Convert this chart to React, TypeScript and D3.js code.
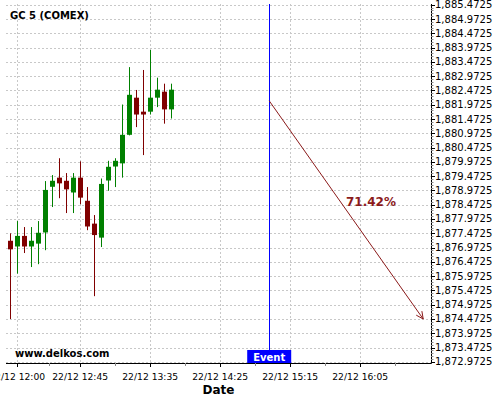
import React from 'react';
import * as d3 from 'd3';

// 5-minute candles, 22/12 from 11:55
const candleTimes = [
  '11:55', '12:00', '12:05', '12:10', '12:15', '12:20', '12:25', '12:30',
  '12:35', '12:40', '12:45', '12:50', '12:55', '13:00', '13:05', '13:10',
  '13:15', '13:20', '13:25', '13:30', '13:35', '13:40', '13:45', '13:50',
];
const opens = [
  1877.21, 1877.01, 1877.38, 1877.01, 1877.11, 1877.50, 1879.10, 1879.42,
  1879.31, 1878.90, 1879.42, 1878.61, 1877.81, 1877.32, 1879.32, 1879.81,
  1879.92, 1880.92, 1882.22, 1881.73, 1881.73, 1882.22, 1882.43, 1881.81,
];
const highs = [
  1877.47, 1877.90, 1877.69, 1877.69, 1877.90, 1879.30, 1879.51, 1880.10,
  1879.58, 1879.58, 1879.99, 1879.09, 1878.11, 1879.39, 1880.01, 1880.10,
  1881.98, 1883.29, 1882.49, 1883.19, 1883.89, 1882.92, 1882.71, 1882.71,
];
const lows = [
  1874.47, 1876.06, 1876.78, 1876.29, 1876.39, 1876.88, 1878.39, 1878.70,
  1878.18, 1878.18, 1878.49, 1877.58, 1875.27, 1876.99, 1878.96, 1879.09,
  1879.42, 1880.90, 1881.19, 1880.21, 1881.63, 1881.89, 1881.31, 1881.49,
];
const closes = [
  1876.91, 1877.38, 1877.01, 1877.21, 1877.49, 1878.99, 1879.31, 1879.22,
  1879.01, 1879.42, 1878.72, 1877.71, 1877.41, 1879.20, 1879.80, 1880.01,
  1880.92, 1882.32, 1881.63, 1881.63, 1882.22, 1882.50, 1881.81, 1882.50,
];

const xTickTimes = ['12:00', '12:45', '13:35', '14:25', '15:15', '16:05'];
const xDomainTimes = ['11:52', '16:55:34'];
const yTicks = d3.range(0, 26).map((i) => 1872.9725 + i * 0.5);
const yDomain = [1872.93, 1885.5];

const eventTime = '15:00';
const arrowStart = { time: '15:00', price: 1882.11 };
const arrowEnd = { time: '16:50', price: 1874.47 };
const arrowLabel = '71.42%';
const title = 'GC 5 (COMEX)';

const parseT = (s: string) => {
  const [h, m, sec] = s.split(':').map(Number);
  return new Date(2020, 11, 22, h, m, sec || 0);
};

const W = 500;
const H = 400;
const left = 6;
const right = 431;
const top = 4;
const bottom = 363;

const FONT = 'DejaVu Sans, sans-serif';
const UP = '#008000';
const DOWN = '#800000';
const ARROW = '#8B1A1A';

const App: React.FC = () => {
  const x = d3.scaleTime().domain(xDomainTimes.map(parseT)).range([left, right]);
  const y = d3.scaleLinear().domain(yDomain).range([bottom, top]);
  const fmtY = d3.format(',.4f');
  const fmtX = d3.timeFormat('%d/%m %H:%M');

  const xTicks = xTickTimes.map(parseT);
  const xMinor = xTicks.slice(0, -1).map((t, i) => new Date((t.getTime() + xTicks[i + 1].getTime()) / 2));
  xMinor.push(new Date(xTicks[xTicks.length - 1].getTime() + 25 * 60000));
  const yMinor = d3.range(0, 126).map((i) => 1872.9725 + i * 0.1).filter((v) => v <= yDomain[1]);

  const bodyW = 5;

  const x1 = x(parseT(arrowStart.time));
  const y1 = y(arrowStart.price);
  const x2 = x(parseT(arrowEnd.time));
  const y2 = y(arrowEnd.price);
  const ang = Math.atan2(y2 - y1, x2 - x1);
  const headLen = 8;
  const headA = Math.PI / 7;
  const head = [ang - headA, ang + headA].map((a) => [x2 - headLen * Math.cos(a), y2 - headLen * Math.sin(a)]);

  const ex = x(parseT(eventTime));

  return (
    <svg
      width={W}
      height={H}
      viewBox={`0 0 ${W} ${H}`}
      style={{ position: 'absolute', left: 0, top: 0, background: '#fff' }}
      fontFamily={FONT}
    >
      {/* grid */}
      <g stroke="#c8c8c8" strokeWidth={1} strokeDasharray="2,2">
        {yTicks.map((v) => (
          <line key={`gy${v}`} x1={left} x2={right} y1={Math.round(y(v)) + 0.5} y2={Math.round(y(v)) + 0.5} />
        ))}
        {xTicks.map((t) => (
          <line key={`gx${t.getTime()}`} x1={Math.round(x(t)) + 0.5} x2={Math.round(x(t)) + 0.5} y1={top} y2={bottom} />
        ))}
      </g>

      <text x={10} y={19} fontSize={10} fontWeight="bold" fill="#000">{title}</text>

      {/* candles */}
      {candleTimes.map((t, i) => {
        const cx = Math.round(x(parseT(t))) + 0.5;
        const up = closes[i] >= opens[i];
        const c = up ? UP : DOWN;
        const yTop = y(Math.max(opens[i], closes[i]));
        const yBot = y(Math.min(opens[i], closes[i]));
        return (
          <g key={t}>
            <line x1={cx} x2={cx} y1={y(highs[i])} y2={y(lows[i])} stroke={c} strokeWidth={1} />
            <rect x={cx - bodyW / 2} y={yTop} width={bodyW} height={Math.max(1.5, yBot - yTop)} fill={c} />
          </g>
        );
      })}

      {/* event line */}
      <line x1={Math.round(ex) + 0.5} x2={Math.round(ex) + 0.5} y1={top} y2={bottom} stroke="#0000ff" strokeWidth={1} />
      <rect x={ex - 22} y={350} width={44} height={13} fill="#0000ff" />
      <text x={ex} y={360.5} fontSize={10} fontWeight="bold" fill="#fff" textAnchor="middle">Event</text>

      {/* arrow */}
      <g stroke={ARROW} strokeWidth={1} fill="none">
        <line x1={x1} y1={y1} x2={x2} y2={y2} />
        <polyline points={`${head[0][0]},${head[0][1]} ${x2},${y2} ${head[1][0]},${head[1][1]}`} />
      </g>
      <text x={346} y={206} fontSize={12} fontWeight="bold" fill={ARROW}>{arrowLabel}</text>

      <text x={15} y={357} fontSize={10} fontWeight="bold" fill="#000">www.delkos.com</text>

      {/* axes */}
      <line x1={right + 0.5} x2={right + 0.5} y1={top} y2={bottom + 0.5} stroke="#000" />
      <line x1={left} x2={right + 0.5} y1={bottom + 0.5} y2={bottom + 0.5} stroke="#000" />
      <g stroke="#888">
        {yMinor.map((v) => (
          <line key={`my${v}`} x1={right} x2={right + 2.5} y1={Math.round(y(v)) + 0.5} y2={Math.round(y(v)) + 0.5} />
        ))}
        {xMinor.map((t) => (
          <line key={`mx${t.getTime()}`} x1={Math.round(x(t)) + 0.5} x2={Math.round(x(t)) + 0.5} y1={bottom} y2={bottom + 3} />
        ))}
      </g>
      <g stroke="#000">
        {yTicks.map((v) => (
          <line key={`ty${v}`} x1={right} x2={right + 4} y1={Math.round(y(v)) + 0.5} y2={Math.round(y(v)) + 0.5} />
        ))}
        {xTicks.map((t) => (
          <line key={`tx${t.getTime()}`} x1={Math.round(x(t)) + 0.5} x2={Math.round(x(t)) + 0.5} y1={bottom} y2={bottom + 4} />
        ))}
      </g>
      {yTicks.map((v) => (
        <text key={`ly${v}`} x={right + 4} y={y(v) + 3.5} fontSize={10} fill="#000">{fmtY(v)}</text>
      ))}
      {xTicks.map((t) => (
        <text key={`lx${t.getTime()}`} x={x(t)} y={380} fontSize={9.2} fill="#000" textAnchor="middle">{fmtX(t)}</text>
      ))}
      <text x={(left + right) / 2} y={394} fontSize={12} fontWeight="bold" textAnchor="middle" fill="#000">Date</text>
    </svg>
  );
};

export default App;
